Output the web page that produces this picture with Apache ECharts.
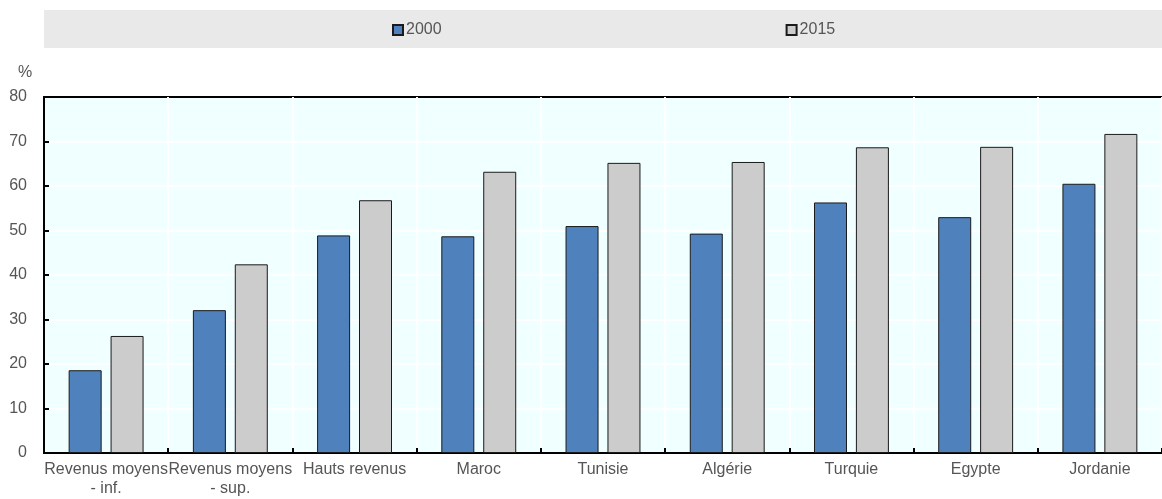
<!DOCTYPE html>
<html>
<head>
<meta charset="utf-8">
<script src="https://cdn.jsdelivr.net/npm/echarts@6/dist/echarts.min.js"></script>
<style>
    html, body { margin: 0; padding: 0; background: #fff; }
    #main { width: 1162px; height: 499px; }
</style>
</head>
<body>
<div id="main"></div>
<script>
    // categories and values (%)
    var categories = ['Revenus moyens\n- inf.', 'Revenus moyens\n- sup.', 'Hauts revenus', 'Maroc', 'Tunisie', 'Algérie', 'Turquie', 'Egypte', 'Jordanie'];
    var values2000 = [18.6, 32.1, 48.9, 48.7, 51.0, 49.3, 56.3, 53.0, 60.5];
    var values2015 = [26.3, 42.4, 56.8, 63.2, 65.2, 65.4, 68.7, 68.8, 71.7];
    var seriesNames = ['2000', '2015'];

    var textColor = '#555555';
    var fontFamily = '"Liberation Sans", Arial, sans-serif';

    var myChart = echarts.init(document.getElementById('main'));
    var opt = {
        animation: false,
        textStyle: { fontFamily: fontFamily },
        graphic: [
            // legend band
            { type: 'rect', shape: { x: 44, y: 10, width: 1118, height: 38 }, style: { fill: '#e9e9e9' }, z: -1 },
            { type: 'text', left: 18, top: 65, style: { text: '%', fill: textColor, font: '16px ' + fontFamily } }
        ],
        legend: {
            data: seriesNames,
            left: 392,
            top: 22,
            padding: 0,
            itemWidth: 10,
            itemHeight: 10,
            itemGap: 344,
            icon: 'rect',
            textStyle: { color: textColor, fontSize: 16, padding: [0, 0, 0, -2] }
        },
        grid: {
            left: 44,
            right: -9,
            top: 97,
            bottom: 46,
            show: true,
            backgroundColor: '#f0ffff',
            borderColor: '#000',
            borderWidth: 2
        },
        xAxis: {
            type: 'category',
            data: categories,
            axisLine: { lineStyle: { color: '#000', width: 2 } },
            axisTick: { show: true, inside: true, length: 5, interval: 0, lineStyle: { color: '#000', width: 2 } },
            axisLabel: { color: textColor, fontSize: 16, lineHeight: 19, interval: 0, margin: 7 },
            splitLine: { show: true, interval: 0, showMinLine: false, lineStyle: { color: '#fff', width: 2 } }
        },
        yAxis: {
            type: 'value',
            min: 0,
            max: 80,
            interval: 10,
            axisLine: { show: true, lineStyle: { color: '#000', width: 2 } },
            axisTick: { show: true, inside: true, length: 5, lineStyle: { color: '#000', width: 2 } },
            axisLabel: { color: textColor, fontSize: 16, margin: 17 },
            splitLine: { showMinLine: false, showMaxLine: false, lineStyle: { color: '#fff', width: 2 } }
        },
        series: [
            {
                name: seriesNames[0],
                type: 'bar',
                data: values2000,
                barWidth: 33,
                barGap: '27%',
                itemStyle: { color: '#4f81bd', borderColor: '#1a1a1a', borderWidth: 1 }
            },
            {
                name: seriesNames[1],
                type: 'bar',
                data: values2015,
                barWidth: 33,
                barGap: '27%',
                itemStyle: { color: '#cccccc', borderColor: '#1a1a1a', borderWidth: 1 }
            }
        ]
    };
    myChart.setOption(opt);
</script>
</body>
</html>
